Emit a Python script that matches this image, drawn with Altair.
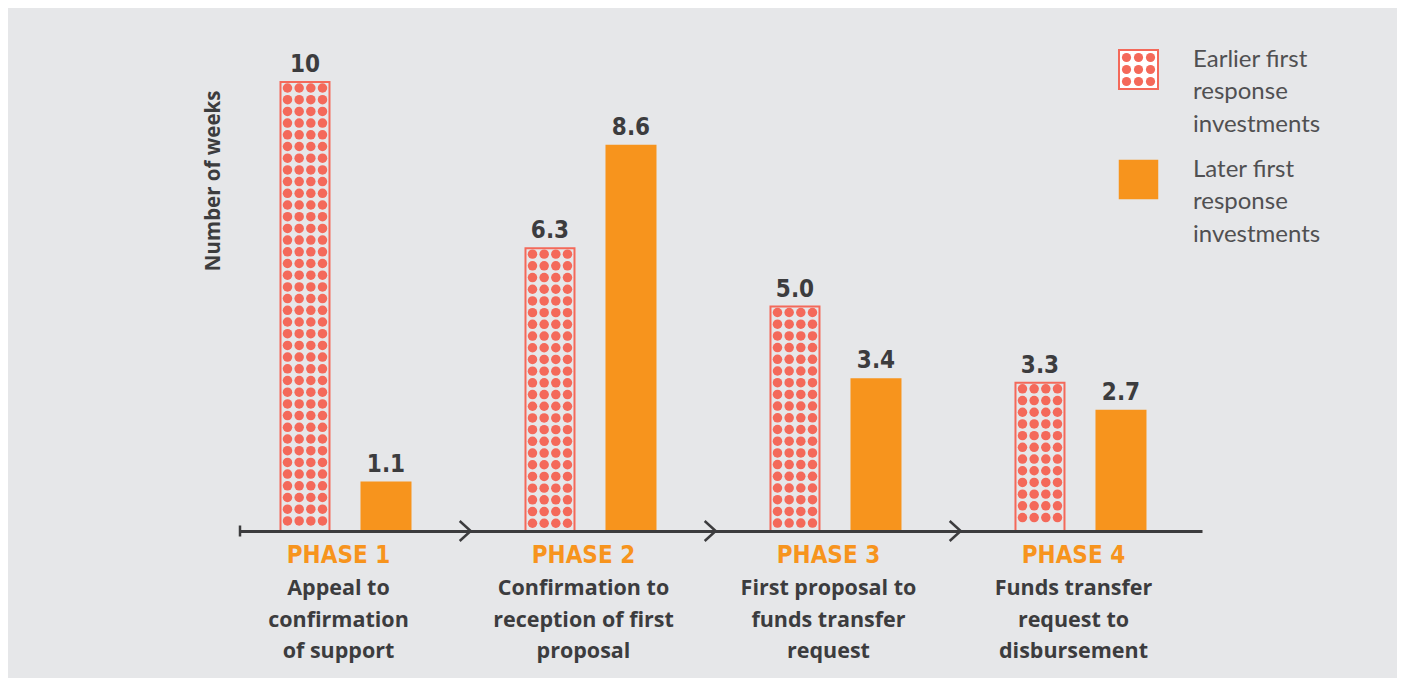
import altair as alt
import pandas as pd

# ---------------- data ----------------
phases = ["PHASE 1", "PHASE 2", "PHASE 3", "PHASE 4"]
descriptions = [
    "Appeal to\nconfirmation\nof support",
    "Confirmation to\nreception of first\nproposal",
    "First proposal to\nfunds transfer\nrequest",
    "Funds transfer\nrequest to\ndisbursement",
]
series = ["Earlier first response investments", "Later first response investments"]
legend_labels = ["Earlier first\nresponse\ninvestments", "Later first\nresponse\ninvestments"]
earlier = [10, 6.3, 5.0, 3.3]
later = [1.1, 8.6, 3.4, 2.7]
earlier_text = ["10", "6.3", "5.0", "3.3"]
later_text = ["1.1", "8.6", "3.4", "2.7"]

# ---------------- layout / style ----------------
W, H = 962, 449
X_MIN, X_MAX = -0.4306, 3.496
PXU = W / (X_MAX - X_MIN)      # pixels per x unit
PYU = H / 10.0                 # pixels per week
OFF = 40.5 / PXU               # bar offset from group centre
LBL_OFF = -7 / PXU

SALMON = "#f4695a"
ORANGE = "#f7941d"
BG = "#e6e7e9"
DARK = "#3c3c3e"
COND = "Liberation Sans Narrow, DejaVu Sans Condensed, sans-serif"
SANS = "Open Sans, Lato, sans-serif"
LIGHT = "Lato, Open Sans, sans-serif"

xscale = alt.Scale(domain=[X_MIN, X_MAX], nice=False, zero=False)
yscale = alt.Scale(domain=[0, 10], nice=False)

rows = []
for i, p in enumerate(phases):
    rows.append(dict(i=i, phase=p, series=series[0], value=earlier[i],
                     label=earlier_text[i], c=i - OFF))
    rows.append(dict(i=i, phase=p, series=series[1], value=later[i],
                     label=later_text[i], c=i + OFF))
bars = pd.DataFrame(rows)
bars["x1"] = bars["c"] - 25.5 / PXU
bars["x2"] = bars["c"] + 25.5 / PXU
bars["x1s"] = bars["c"] - 24.5 / PXU
bars["x2s"] = bars["c"] + 24.5 / PXU
bars_e = bars[bars.series == series[0]]
bars_l = bars[bars.series == series[1]]

# dot pattern inside the earlier bars (derived from the values)
dots = []
for i, v in enumerate(earlier):
    h = v * PYU
    c = i - OFF
    k = 0
    while 6 + 11.7 * k <= h - 3:
        y = (h - 6 - 11.7 * k) / PYU
        for dx in (-17.5, -5.83, 5.83, 17.5):
            dots.append(dict(x=c + dx / PXU, y=y))
        k += 1
dots = pd.DataFrame(dots)

labels = pd.DataFrame({"i": range(len(phases)), "phase": phases, "desc": descriptions})
labels["lx"] = labels["i"] + LBL_OFF

arrows = pd.DataFrame({"x": [i + 0.5 for i in range(len(phases) - 1)], "y": 0})
start = pd.DataFrame({"x": [X_MIN], "y": [0]})

xaxis = alt.Axis(title=None, labels=False, ticks=False, grid=False,
                 domainColor=DARK, domainWidth=3, zindex=1)
yaxis = alt.Axis(title="Number of weeks", labels=False, ticks=False, grid=False,
                 domain=False, titleX=-27, titleY=8, titleAlign="right",
                 titleAngle=270, titleBaseline="middle", titleFont=SANS,
                 titleFontSize=20.5, titleFontWeight="bold", titleColor=DARK)

later_bars = alt.Chart(bars_l).mark_rect(color=ORANGE).encode(
    x=alt.X("x1:Q", scale=xscale, axis=xaxis),
    x2="x2:Q",
    y=alt.Y("value:Q", scale=yscale, axis=yaxis),
    y2=alt.datum(0),
)

dot_layer = alt.Chart(dots).mark_circle(color=SALMON, opacity=1, size=90).encode(
    x=alt.X("x:Q", scale=xscale), y=alt.Y("y:Q", scale=yscale)
)

earlier_bars = alt.Chart(bars_e).mark_rect(
    fillOpacity=0, stroke=SALMON, strokeWidth=2
).encode(
    x=alt.X("x1s:Q", scale=xscale), x2="x2s:Q",
    y=alt.Y("value:Q", scale=yscale), y2=alt.datum(0),
)

value_text = alt.Chart(bars).mark_text(
    font=COND, fontSize=24, fontWeight="bold", color=DARK,
    baseline="alphabetic", align="center", dy=-10
).encode(x=alt.X("c:Q", scale=xscale), y=alt.Y("value:Q", scale=yscale), text="label:N")

phase_text = alt.Chart(labels).mark_text(
    font=COND, fontSize=24, fontWeight="bold", color=ORANGE,
    baseline="alphabetic", align="center"
).encode(x=alt.X("lx:Q", scale=xscale), y=alt.value(480.7), text="phase:N")

desc_text = alt.Chart(labels).mark_text(
    font=SANS, fontSize=21.5, fontWeight="bold", color=DARK,
    baseline="alphabetic", align="center", lineBreak="\n", lineHeight=31.5
).encode(x=alt.X("lx:Q", scale=xscale), y=alt.value(513), text="desc:N")

arrow_layer = alt.Chart(arrows).mark_point(
    shape="M-0.83,-1L0.27,0L-0.83,1", size=400, filled=False,
    stroke=DARK, strokeWidth=2.5, opacity=1
).encode(x=alt.X("x:Q", scale=xscale), y=alt.Y("y:Q", scale=yscale))

start_tick = alt.Chart(start).mark_point(
    shape="M0,-1L0,1", size=121, filled=False, stroke=DARK, strokeWidth=2.5, opacity=1
).encode(x=alt.X("x:Q", scale=xscale), y=alt.Y("y:Q", scale=yscale))

# ---------------- legend ----------------
leg = pd.DataFrame({"series": series, "text": legend_labels})
leg_e = leg.iloc[[0]]
leg_l = leg.iloc[[1]]

leg_sq_e = alt.Chart(leg_e).mark_square(
    size=1521, fill="white", fillOpacity=1, stroke=SALMON, strokeWidth=2, opacity=1
).encode(x=alt.value(898.5), y=alt.value(-12.5))

leg_dots = pd.DataFrame(
    [dict(px=898.5 + dx, py=-12.5 + dy) for dy in (-12, 0, 12) for dx in (-12, 0, 12)]
)
leg_dot_layer = alt.Chart(leg_dots).mark_circle(color=SALMON, opacity=1, size=85).encode(
    x=alt.X("px:Q", scale=None), y=alt.Y("py:Q", scale=None)
)

leg_sq_l = alt.Chart(leg_l).mark_square(size=1560, color=ORANGE, opacity=1).encode(
    x=alt.value(898.5), y=alt.value(97.5)
)

leg_txt_e = alt.Chart(leg_e).mark_text(
    font=LIGHT, fontSize=24, color="#505052", align="left", baseline="alphabetic",
    lineBreak="\n", lineHeight=32.5
).encode(x=alt.value(953), y=alt.value(-15.3), text="text:N")

leg_txt_l = alt.Chart(leg_l).mark_text(
    font=LIGHT, fontSize=24, color="#505052", align="left", baseline="alphabetic",
    lineBreak="\n", lineHeight=32.5
).encode(x=alt.value(953), y=alt.value(94.7), text="text:N")

chart = alt.layer(
    later_bars, dot_layer, earlier_bars, value_text, phase_text, desc_text,
    arrow_layer, start_tick, leg_sq_e, leg_dot_layer, leg_sq_l, leg_txt_e, leg_txt_l
).properties(
    width=W, height=H,
    autosize=alt.AutoSizeParams(type="none"),
    padding={"left": 232, "top": 74, "right": 195, "bottom": 147},
).configure(background=BG).configure_view(stroke=None)

chart.save("out.html", embed_options={"renderer": "svg", "actions": False})
